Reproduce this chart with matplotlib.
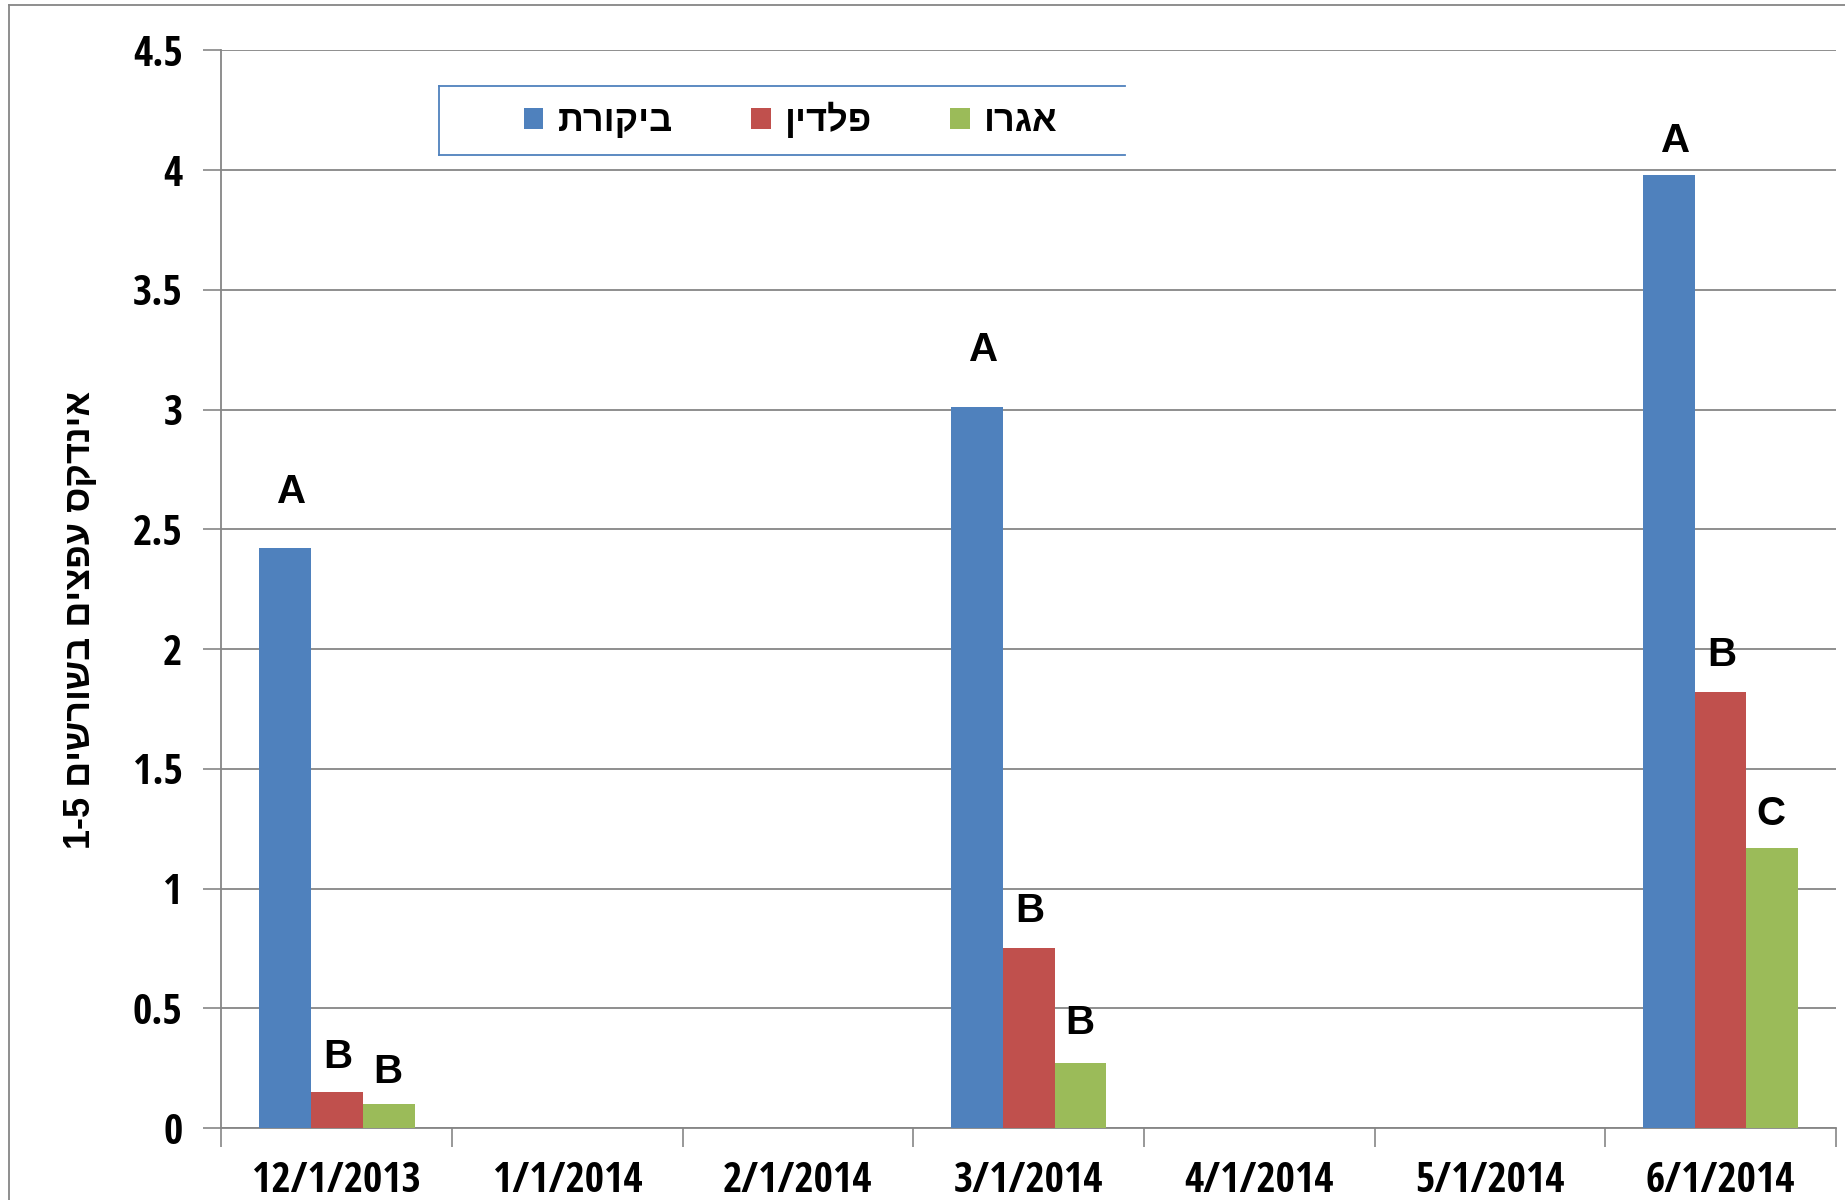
import numpy as np
import matplotlib.pyplot as plt
from matplotlib.patches import Patch
from matplotlib.lines import Line2D


def heb(s):
    # matplotlib draws left to right, so Hebrew has to be reversed
    return s[::-1]


# data
dates = ['12/1/2013', '1/1/2014', '2/1/2014', '3/1/2014', '4/1/2014', '5/1/2014', '6/1/2014']
series_names = ['ביקורת', 'פלדין', 'אגרו']
control = [2.42, 0, 0, 3.01, 0, 0, 3.98]
paldin = [0.15, 0, 0, 0.75, 0, 0, 1.82]
agro = [0.10, 0, 0, 0.27, 0, 0, 1.17]

letters_control = ['A', '', '', 'A', '', '', 'A']
letters_paldin = ['B', '', '', 'B', '', '', 'B']
letters_agro = ['B', '', '', 'B', '', '', 'C']

ylabel = '1-5 ' + heb('אינדקס עפצים בשורשים')

colors = ['#4F81BD', '#C0504D', '#9BBB59']
grid_col = '#868686'
heb_font = ['Liberation Sans', 'DejaVu Sans']
tick_font = ['Open Sans Condensed', 'DejaVu Sans']

fig = plt.figure(figsize=(18.45, 12), dpi=100)
ax = fig.add_axes([0.120, 0.060, 0.875, 0.898])

x = np.arange(len(dates))
w = 0.225
all_series = [control, paldin, agro]
all_letters = [letters_control, letters_paldin, letters_agro]
# letters sit a little above each bar, the way they were placed by hand
label_gap = [[0.235, 0, 0, 0.24, 0, 0, 0.14],
             [0.145, 0, 0, 0.155, 0, 0, 0.155],
             [0.135, 0, 0, 0.17, 0, 0, 0.14]]
label_dx = [0.03, 0.005, -0.005]

for i, (vals, col) in enumerate(zip(all_series, colors)):
    ax.bar(x + (i - 1) * w, vals, width=w, color=col, zorder=3)
    for j, v in enumerate(vals):
        if all_letters[i][j]:
            ax.text(x[j] + (i - 1) * w + label_dx[i], v + label_gap[i][j], all_letters[i][j],
                    ha='center', va='center', fontsize=29, fontweight='bold',
                    family=heb_font)

ax.set_xlim(-0.5, len(dates) - 0.5)
ax.set_ylim(0, 4.5)
ax.set_yticks(np.arange(0, 4.51, 0.5))
ax.set_yticklabels(['0', '0.5', '1', '1.5', '2', '2.5', '3', '3.5', '4', '4.5'])
ax.set_xticks(x)
ax.set_xticklabels(dates)
ax.set_xticks(np.arange(-0.5, len(dates)), minor=True)
ax.tick_params(axis='x', which='major', length=0, pad=24)
ax.tick_params(axis='x', which='minor', length=14, width=1.2, color=grid_col)
ax.tick_params(axis='y', length=13, width=1.2, color=grid_col, pad=15)
for lab in ax.get_xticklabels() + ax.get_yticklabels():
    lab.set_family(tick_font)
    lab.set_fontweight('bold')
    lab.set_fontsize(30)

ax.grid(axis='y', color=grid_col, linewidth=1.3, zorder=0)
for s in ['top', 'right']:
    ax.spines[s].set_visible(False)
for s in ['left', 'bottom']:
    ax.spines[s].set_color(grid_col)
    ax.spines[s].set_linewidth(1.3)

ax.set_ylabel(ylabel, fontsize=26, fontweight='bold', family=heb_font,
              va='center', ha='center')
ax.yaxis.set_label_coords(-0.0875, 0.4715)

handles = [Patch(facecolor=c, edgecolor='none') for c in colors]
leg = fig.legend(handles, [heb(s) for s in series_names], ncol=3,
                 loc='center left', bbox_to_anchor=(0.2838, 0.899),
                 frameon=False, borderpad=0, borderaxespad=0,
                 handlelength=0.55, handleheight=0.55,
                 handletextpad=0.4, columnspacing=2.15,
                 prop={'family': heb_font, 'weight': 'bold', 'size': 26})

# legend box without the right side, like the original
lx0, lx1, ly0, ly1 = 0.238, 0.610, 0.871, 0.928
for xs, ys in [([lx0, lx0], [ly0, ly1]), ([lx0, lx1], [ly1, ly1]), ([lx0, lx1], [ly0, ly0])]:
    fig.add_artist(Line2D(xs, ys, color='#4F81BD', linewidth=1.3))

# outer chart frame
fig.add_artist(Line2D([0.005, 0.005], [0, 0.996], color=grid_col, linewidth=1.3))
fig.add_artist(Line2D([0.005, 1], [0.996, 0.996], color=grid_col, linewidth=1.3))

fig.savefig('out.png', dpi=100)
